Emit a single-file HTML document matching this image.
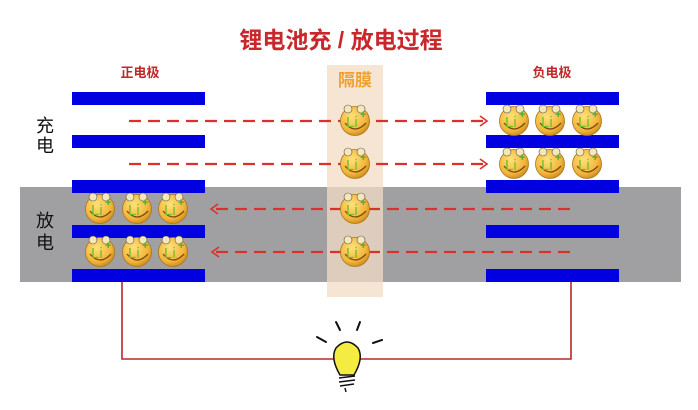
<!DOCTYPE html>
<html><head><meta charset="utf-8"><style>
body{margin:0;width:698px;height:410px;background:#fff;overflow:hidden;font-family:"Liberation Sans","Noto Sans CJK SC",sans-serif}
</style></head><body>
<svg width="698" height="410" xmlns="http://www.w3.org/2000/svg" style="position:absolute;left:0;top:0">
<defs>
<radialGradient id="g" cx="0.4" cy="0.35" r="0.7"><stop offset="0" stop-color="#ffe27a"/><stop offset="0.7" stop-color="#f2b43a"/><stop offset="1" stop-color="#c98718"/></radialGradient>
<g id="li">
<circle r="14.5" fill="url(#g)" stroke="#a8761c" stroke-width="0.8"/>
<circle cx="-7" cy="-12" r="4" fill="#f6e7b8" stroke="#555" stroke-width="0.6"/>
<circle cx="6" cy="-12" r="4" fill="#f6e7b8" stroke="#555" stroke-width="0.6"/>
<path d="M-10 2 Q0 14 11 2" fill="none" stroke="#7a4a10" stroke-width="1.3"/>
<text x="-9" y="6" font-size="15" fill="#6fbf2a" font-family="Liberation Sans">Li</text>
<text x="5" y="-3" font-size="11" fill="#4cae2a" font-weight="bold">+</text>
</g>
<marker id="ar" markerWidth="10" markerHeight="12" refX="8" refY="6" orient="auto" markerUnits="userSpaceOnUse"><path d="M1 1 L8 6 L1 11" fill="none" stroke="#d9312b" stroke-width="1.6"/></marker>
</defs>
<rect x="20" y="187" width="661" height="95" fill="#a0a0a2"/>
<rect x="327" y="65" width="56" height="232" fill="#f3dcc4" opacity="0.75"/>
<text x="341" y="48" text-anchor="middle" font-size="23" font-weight="bold" fill="#c8282b">锂电池充 / 放电过程</text>
<text x="140" y="77" text-anchor="middle" font-size="13" font-weight="bold" fill="#c0282a">正电极</text>
<text x="552" y="77" text-anchor="middle" font-size="13" font-weight="bold" fill="#c0282a">负电极</text>
<text x="355" y="86" text-anchor="middle" font-size="17" font-weight="bold" fill="#f0a030">隔膜</text>
<text x="45" y="132" text-anchor="middle" font-size="18" fill="#111">充</text>
<text x="45" y="152" text-anchor="middle" font-size="18" fill="#111">电</text>
<text x="45" y="227" text-anchor="middle" font-size="18" fill="#111">放</text>
<text x="45" y="249" text-anchor="middle" font-size="18" fill="#111">电</text>
<g fill="#0000e0">
<rect x="72" y="92" width="133" height="13"/><rect x="72" y="135" width="133" height="13"/><rect x="72" y="180" width="133" height="13"/><rect x="72" y="225" width="133" height="13"/><rect x="72" y="269" width="133" height="13"/>
<rect x="486" y="92" width="133" height="13"/><rect x="486" y="135" width="133" height="13"/><rect x="486" y="180" width="133" height="13"/><rect x="486" y="225" width="133" height="13"/><rect x="486" y="269" width="133" height="13"/>
</g>
<g stroke="#d9312b" stroke-width="2.2" stroke-dasharray="12,7" fill="none">
<line x1="129" y1="121" x2="487" y2="121" marker-end="url(#ar)"/>
<line x1="129" y1="164" x2="487" y2="164" marker-end="url(#ar)"/>
<line x1="570" y1="209" x2="211" y2="209" marker-end="url(#ar)"/>
<line x1="570" y1="252" x2="212" y2="252" marker-end="url(#ar)"/>
</g>
<use href="#li" x="355" y="121"/><use href="#li" x="355" y="164"/><use href="#li" x="355" y="209"/><use href="#li" x="355" y="252"/>
<use href="#li" x="514" y="121"/><use href="#li" x="550" y="121"/><use href="#li" x="587" y="121"/>
<use href="#li" x="514" y="164"/><use href="#li" x="550" y="164"/><use href="#li" x="587" y="164"/>
<use href="#li" x="100" y="209"/><use href="#li" x="137" y="209"/><use href="#li" x="173" y="209"/>
<use href="#li" x="100" y="252"/><use href="#li" x="137" y="252"/><use href="#li" x="173" y="252"/>
<path d="M122 282 V359 H571 V282" fill="none" stroke="#b8282a" stroke-width="1.6"/>
<g stroke="#111" stroke-width="2" stroke-linecap="round">
<line x1="317" y1="337" x2="326" y2="342"/><line x1="336" y1="322" x2="340" y2="330"/><line x1="360" y1="322" x2="357" y2="330"/><line x1="373" y1="343" x2="382" y2="340"/>
</g>
<path d="M340 375 Q330 358 336 348 Q347 336 358 348 Q364 358 354 375 Z" fill="#f4ec40" stroke="#111" stroke-width="1.5"/>
<g stroke="#111" stroke-width="1.5"><line x1="339" y1="378" x2="355" y2="376"/><line x1="339" y1="382" x2="355" y2="380"/><line x1="340" y1="386" x2="354" y2="384"/><line x1="345" y1="388" x2="346" y2="392"/></g>
</svg>
</body></html>
